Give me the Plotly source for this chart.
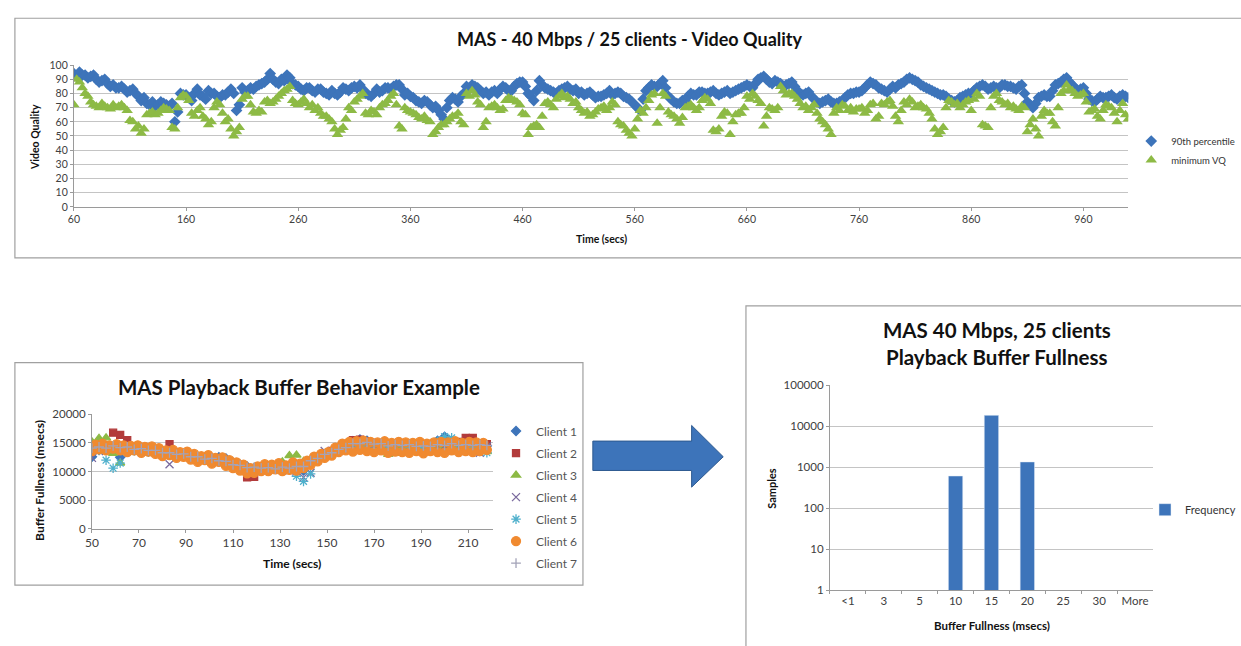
import plotly.graph_objects as go

W, H = 1241, 646
FONT = "Lato"

def px(x):
    return x / W

def py(y):
    return 1 - y / H

# ---------------- Top chart: video quality (one sample every 2.5 s) ----------------
vq_p90 = [
    94, 92, 95, 93, 93, 91, 92, 93, 90, 88, 89, 90, 87, 85, 86, 84, 84, 85, 83, 81,
    82, 83, 80, 78, 75, 77, 73, 72, 74, 71, 72, 74, 73, 72, 71, 73, 60, 67, 80, 79,
    79, 77, 75, 80, 83, 79, 78, 76, 82, 80, 80, 78, 77, 79, 79, 81, 83, 80, 68, 72,
    84, 81, 82, 84, 83, 85, 86, 87, 88, 90, 94, 90, 88, 87, 90, 89, 93, 91, 87, 86,
    85, 83, 82, 84, 84, 82, 81, 83, 83, 81, 80, 79, 82, 80, 79, 81, 84, 83, 82, 84,
    85, 84, 86, 83, 80, 79, 78, 80, 83, 81, 82, 84, 84, 83, 85, 86, 86, 83, 79, 80,
    78, 77, 75, 74, 73, 75, 74, 72, 70, 71, 68, 65, 62, 70, 75, 77, 76, 74, 78, 80,
    85, 84, 86, 85, 84, 82, 80, 81, 79, 81, 82, 80, 83, 85, 84, 82, 82, 85, 87, 88,
    88, 85, 80, 78, 75, 82, 89, 86, 84, 83, 82, 81, 80, 82, 83, 84, 85, 83, 82, 83,
    80, 81, 79, 80, 81, 79, 77, 78, 78, 79, 80, 82, 79, 80, 81, 80, 78, 77, 76, 74,
    72, 70, 68, 76, 82, 84, 86, 85, 85, 87, 89, 84, 78, 76, 74, 73, 73, 75, 75, 78,
    80, 79, 79, 81, 81, 80, 80, 81, 82, 80, 79, 80, 81, 82, 80, 81, 82, 83, 84, 85,
    86, 85, 84, 87, 90, 91, 92, 90, 88, 87, 89, 88, 87, 85, 86, 87, 88, 85, 82, 80,
    79, 80, 81, 78, 76, 74, 73, 74, 75, 76, 74, 73, 73, 74, 75, 77, 79, 80, 80, 81,
    81, 82, 84, 86, 88, 87, 86, 84, 83, 82, 81, 83, 85, 84, 86, 87, 88, 90, 91, 90,
    89, 88, 86, 85, 84, 83, 82, 81, 80, 79, 79, 78, 76, 75, 74, 75, 77, 78, 79, 80,
    80, 82, 84, 85, 86, 85, 83, 84, 85, 84, 84, 86, 86, 85, 85, 84, 83, 85, 86, 80,
    74, 72, 70, 73, 77, 78, 79, 78, 78, 82, 86, 87, 88, 90, 91, 88, 86, 84, 82, 83,
    84, 80, 76, 75, 74, 76, 78, 77, 77, 78, 79, 77, 76, 78, 79, 78, 77,
]
vq_min = [
    72, 90, 88, 84, 80, 78, 74, 72, 71, 70, 73, 71, 70, 69, 72, 70, 71, 72, 70, 68,
    61, 60, 55, 57, 52, 55, 65, 66, 67, 65, 66, 68, 70, 69, 68, 56, 55, 70, 77, 79,
    78, 75, 66, 64, 68, 70, 64, 62, 58, 60, 70, 74, 72, 66, 60, 62, 55, 50, 53, 56,
    76, 78, 78, 72, 67, 66, 68, 67, 74, 75, 73, 74, 76, 78, 80, 82, 83, 85, 75, 73,
    72, 74, 76, 73, 70, 72, 68, 70, 66, 64, 64, 62, 60, 55, 51, 54, 56, 62, 70, 68,
    74, 76, 78, 80, 66, 65, 68, 67, 65, 70, 72, 73, 75, 78, 80, 72, 57, 55, 70, 68,
    67, 66, 65, 63, 62, 64, 61, 60, 51, 53, 56, 58, 58, 60, 62, 64, 64, 66, 60, 58,
    80, 78, 82, 79, 74, 72, 56, 60, 70, 71, 72, 70, 68, 69, 75, 77, 76, 75, 74, 72,
    66, 65, 51, 56, 57, 58, 56, 64, 73, 74, 72, 70, 76, 78, 80, 77, 78, 76, 73, 74,
    70, 68, 66, 67, 64, 65, 67, 69, 70, 71, 68, 70, 74, 72, 60, 58, 57, 54, 52, 50,
    55, 62, 68, 66, 70, 75, 79, 80, 59, 70, 80, 78, 67, 65, 64, 62, 59, 63, 70, 71,
    72, 70, 68, 70, 75, 77, 76, 73, 54, 53, 55, 64, 67, 66, 51, 60, 65, 66, 66, 70,
    78, 76, 80, 78, 75, 73, 57, 64, 70, 69, 68, 70, 85, 82, 79, 80, 80, 78, 76, 73,
    70, 71, 68, 70, 72, 66, 62, 60, 58, 55, 51, 66, 70, 68, 72, 71, 68, 70, 67, 69,
    69, 70, 66, 68, 72, 73, 62, 64, 73, 72, 74, 75, 71, 64, 60, 68, 74, 72, 76, 74,
    70, 71, 72, 70, 69, 66, 62, 55, 51, 53, 56, 70, 75, 74, 72, 73, 70, 72, 74, 75,
    68, 76, 80, 78, 58, 57, 56, 70, 78, 80, 75, 74, 72, 73, 70, 71, 69, 68, 71, 70,
    53, 58, 62, 55, 50, 64, 68, 66, 66, 60, 57, 70, 80, 82, 86, 83, 82, 80, 78, 79,
    80, 74, 67, 68, 69, 64, 62, 68, 72, 71, 70, 66, 60, 68, 73, 65, 62,
]
vq_time = [60 + 2.5 * i for i in range(len(vq_p90))]
vq_x_ticks = [60, 160, 260, 360, 460, 560, 660, 760, 860, 960]

# ---------------- Bottom-left chart: buffer behaviour ----------------
buf_time = list(range(50, 219, 3))
buf_time_c6 = [50 + 1.5 * i for i in range(113)]
client_1 = [12600, 13800, 14200, 14000, 12500, 14100, 13900, 13800, 13500, 13700, 13300, 13100, 13200, 12900, 12800, 12400, 12400, 12300, 12500, 12300,
            11600, 11200, 10900, 10600, 10800, 10700, 10500, 10800, 10700, 10600, 10200, 11700, 12500, 12800, 13300, 13900, 14400, 15300, 15600, 15400,
            14800, 14400, 14500, 14300, 14600, 14200, 14300, 14400, 14600, 15400, 16100, 15200, 14500, 14300, 13900, 13600, 14500]
client_2 = [14300, 14500, 14600, 16800, 16400, 15500, 14300, 14000, 13900, 13800, 13600, 14800, 13400, 13100, 12900, 12600, 12400, 12200, 12100, 11800,
            11400, 10900, 9000, 9100, 10500, 10500, 10400, 10600, 10800, 10700, 11100, 11900, 12500, 13100, 13600, 14100, 14600, 15500, 15600, 15300,
            15000, 14900, 14800, 14700, 14900, 14800, 14700, 14600, 14700, 14800, 14900, 15000, 15200, 15900, 15900, 14800, 14800]
client_3 = [15200, 15800, 15900, 13200, 11500, 13600, 13800, 13700, 13600, 13500, 13200, 13000, 12900, 12700, 12500, 12200, 11900, 11800, 11600, 11500,
            11200, 10800, 10600, 10500, 10500, 10400, 10900, 11700, 12800, 12900, 11800, 11600, 12200, 12800, 13300, 13700, 14200, 14700, 14900, 14800,
            14600, 14500, 13000, 13200, 14300, 14400, 14300, 14400, 14300, 14500, 14500, 14500, 14400, 14300, 14500, 14400, 13500]
client_4 = [12400, 13600, 14000, 14100, 14000, 13800, 13700, 13600, 13500, 13400, 13200, 11300, 12800, 12800, 12600, 12300, 12100, 12000, 11800, 11600,
            11100, 10800, 10600, 10600, 10500, 10400, 10400, 10300, 10200, 10000, 9000, 9800, 12000, 13600, 13200, 13700, 14200, 14600, 14800, 14700,
            14600, 14500, 14400, 14300, 14400, 14300, 14200, 14200, 14300, 14400, 14500, 14400, 14300, 14400, 14300, 13300, 14400]
client_5 = [13800, 13700, 12000, 10600, 11500, 13400, 13600, 13500, 13400, 13300, 13100, 12900, 12800, 12700, 12400, 12300, 12100, 12000, 11900, 11500,
            11200, 10900, 10700, 10600, 10600, 10500, 10500, 10400, 10300, 9200, 8300, 9600, 12100, 12700, 13200, 13600, 14000, 14800, 15000, 14900,
            14800, 14700, 14500, 14500, 14400, 14300, 14200, 14300, 14400, 15300, 16100, 15900, 14700, 14300, 14200, 14300, 13300]
client_6 = [13600, 14700, 13900, 14900, 13700, 14600, 14000, 14800, 13700, 14600,
            13400, 14500, 13700, 14600, 13300, 14300, 13500, 14400, 13100, 14100,
            12700, 13700, 12900, 13800, 12400, 13400, 12600, 13500, 12100, 13100,
            11700, 12700, 12000, 12900, 11400, 12400, 11700, 12500, 11000, 12000,
            10600, 11600, 10200, 11200, 9700, 10600, 9800, 10900, 10100, 11300,
            10100, 11200, 10400, 11500, 10100, 11100, 10300, 11600, 10200, 11400,
            10600, 11900, 11200, 12600, 11800, 13100, 12400, 13400, 12800, 14200,
            13400, 14900, 13700, 15200, 13500, 15300, 13800, 15400, 13600, 15200,
            13400, 15100, 13700, 15300, 13300, 15000, 13500, 15200, 13400, 15100,
            13300, 15000, 13600, 15200, 13200, 14900, 13600, 15100, 13400, 15200,
            13300, 15100, 13700, 15300, 13400, 15000, 13600, 15200, 13400, 15100,
            13600, 15000, 13800]
client_7 = [14100, 14300, 14100, 14500, 14200, 14300, 13900, 14000, 13700, 13700, 13300, 13300, 13000, 13100, 12600, 12600, 12200, 12300, 11900, 11800,
            11200, 11100, 10700, 10800, 10600, 10700, 10500, 10800, 10600, 10900, 10900, 11900, 12300, 13000, 13300, 13900, 14200, 14900, 14900, 15100,
            14800, 14900, 14500, 14700, 14600, 14700, 14400, 14500, 14400, 14700, 14600, 14900, 14600, 14700, 14600, 14700, 14600]
client_names = ["Client 1", "Client 2", "Client 3", "Client 4", "Client 5", "Client 6", "Client 7"]
client_values = [client_1, client_2, client_3, client_4, client_5, client_6, client_7]
client_times = [buf_time, buf_time, buf_time, buf_time, buf_time, buf_time_c6, buf_time]
client_colors = ["#3D74BA", "#B23B3B", "#8DBA45", "#7A6A9E", "#4FB0CC", "#F08A30", "#A3A3B8"]
client_symbols = ["diamond", "square", "triangle-up", "x-thin", "asterisk", "circle", "cross-thin"]
client_sizes = [7, 7, 8, 8, 8, 9, 7]

# ---------------- Right chart: histogram ----------------
hist_bins = ["<1", "3", "5", "10", "15", "20", "25", "30", "More"]
hist_counts = [None, None, None, 608, 18400, 1340, None, None, None]
hist_ticks = [1, 10, 100, 1000, 10000, 100000]

BLUE = "#3D74BA"
GREEN = "#8DBA45"
GRID = "#C4C4C4"
AXIS = "#9A9A9A"
TICKFONT = "#404040"

fig = go.Figure()

fig.add_trace(go.Scatter(
    x=vq_time, y=vq_p90, mode="markers", name="90th percentile",
    marker=dict(symbol="diamond", size=9, color=BLUE),
    xaxis="x", yaxis="y", legend="legend"))
fig.add_trace(go.Scatter(
    x=vq_time, y=vq_min, mode="markers", name="minimum VQ",
    marker=dict(symbol="triangle-up", size=10, color=GREEN),
    xaxis="x", yaxis="y", legend="legend"))

for name, tt, vals, col, sym, sz in zip(client_names, client_times, client_values,
                                       client_colors, client_symbols, client_sizes):
    fig.add_trace(go.Scatter(
        x=tt, y=vals, mode="markers", name=name,
        marker=dict(symbol=sym, size=sz, color=col, line=dict(color=col, width=1.3)),
        xaxis="x2", yaxis="y2", legend="legend2", legendgroup=name))

fig.add_trace(go.Bar(
    x=hist_bins, y=hist_counts, name="Frequency", marker=dict(color=BLUE),
    xaxis="x3", yaxis="y3", legend="legend3"))

def axis_style(size):
    return dict(showline=True, linecolor=AXIS, linewidth=1, ticks="outside",
                tickcolor=AXIS, ticklen=3, zeroline=False,
                tickfont=dict(family=FONT, size=size, color=TICKFONT))

fig.update_layout(
    width=W, height=H, autosize=False,
    margin=dict(l=0, r=0, t=0, b=0),
    paper_bgcolor="white", plot_bgcolor="white",
    font=dict(family=FONT, color="#222"),
    bargap=0.6,
    xaxis=dict(domain=[px(67.7), px(1135)], anchor="y", range=[60, 1000],
               tickvals=vq_x_ticks, showgrid=False, **axis_style(10.5)),
    yaxis=dict(domain=[py(204), py(59.3)], anchor="x", range=[0, 100], dtick=10,
               showgrid=True, gridcolor=GRID, **axis_style(10.5)),
    xaxis2=dict(domain=[px(86), px(491.7)], anchor="y2", range=[50, 220.5],
                tick0=50, dtick=20, showgrid=False, **axis_style(12)),
    yaxis2=dict(domain=[py(532.7), py(415.7)], anchor="x2", range=[0, 20000], dtick=5000,
                tickformat="d", showgrid=True, gridcolor=GRID, **axis_style(11.5)),
    xaxis3=dict(domain=[px(833), px(1160)], anchor="y3", type="category",
                range=[-0.5, 8.5], tickson="boundaries", showgrid=False, **axis_style(11.5)),
    yaxis3=dict(domain=[py(595), py(386)], anchor="x3", type="log", range=[0, 5],
                tickvals=hist_ticks, ticktext=[str(v) for v in hist_ticks],
                showgrid=True, gridcolor=GRID, **axis_style(11.5)),
    legend=dict(x=px(1138), y=py(122), xanchor="left", yanchor="top",
                font=dict(family=FONT, size=9.5, color="#333"), bgcolor="rgba(0,0,0,0)",
                tracegroupgap=0),
    legend2=dict(x=px(495), y=py(418), xanchor="left", yanchor="top",
                 font=dict(family=FONT, size=12, color="#555"), bgcolor="rgba(0,0,0,0)",
                 tracegroupgap=3),
    legend3=dict(x=px(1152), y=py(513), xanchor="left", yanchor="middle",
                 font=dict(family=FONT, size=11, color="#333"), bgcolor="rgba(0,0,0,0)"),
)

# chart frames
frame = dict(type="rect", xref="paper", yref="paper", line=dict(color="#A0A0A0", width=1.2),
             fillcolor="rgba(0,0,0,0)", layer="below")
fig.add_shape(x0=px(8), x1=px(1250), y0=py(256), y1=py(11.5), **frame)
fig.add_shape(x0=px(8), x1=px(583), y0=py(590), y1=py(363), **frame)
fig.add_shape(x0=px(748), x1=px(1250), y0=py(660), y1=py(305), **frame)

# arrow between the charts
arrow_pts = [(593, 443), (693, 443), (693, 427), (725, 459), (693, 490), (693, 473), (593, 473)]
path = "M " + " L ".join(f"{px(a):.5f},{py(b):.5f}" for a, b in arrow_pts) + " Z"
fig.add_shape(type="path", xref="paper", yref="paper", path=path,
              fillcolor="#3D74BA", line=dict(color="#2E5A90", width=1))

def label(text, x, y, size, angle=0, bold=True):
    fig.add_annotation(text=f"<b>{text}</b>" if bold else text, x=px(x), y=py(y),
                       xref="paper", yref="paper", showarrow=False, textangle=angle,
                       xanchor="center", yanchor="middle",
                       font=dict(family=FONT, size=size, color="#111"))

label("MAS - 40 Mbps / 25 clients - Video Quality", 631, 33, 18)
label("Time (secs)", 602, 237, 10.5)
label("Video Quality", 29, 133, 10.5, angle=-90)

label("MAS Playback Buffer Behavior Example", 296, 388, 20.5)
label("Time (secs)", 288, 568, 12)
label("Buffer Fullness (msecs)", 33, 483, 12, angle=-90)

label("MAS 40 Mbps, 25 clients", 1002, 330, 20.5)
label("Playback Buffer Fullness", 1002, 357, 20.5)
label("Samples", 773, 491, 11, angle=-90)
label("Buffer Fullness (msecs)", 997, 631, 11.5)

fig.write_html("out.html", config={"displayModeBar": False},
               post_script="document.body.style.margin='0';document.body.style.overflow='hidden';")
